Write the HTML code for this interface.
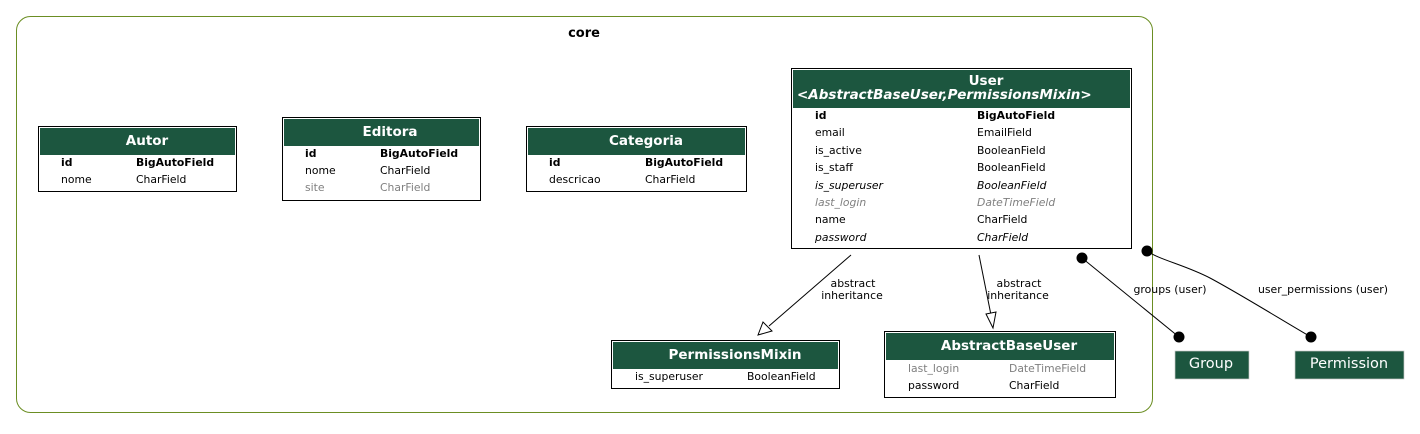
<!DOCTYPE html>
<html><head><style>
body{margin:0;background:#fff;}
text{font-family:"DejaVu Sans","Liberation Sans",sans-serif;}
.r{font-size:10.8px;fill:#000;}
.g{fill:#7f7f7f;}
.b{font-weight:bold;}
.i{font-style:italic;}
.h{font-size:13.5px;font-weight:bold;fill:#fff;}
.e{font-size:10.9px;}
</style></head><body>
<svg width="1420" height="429" viewBox="0 0 1420 429" xmlns="http://www.w3.org/2000/svg">
<rect x="16.5" y="16.5" width="1136" height="396" rx="14" fill="#fff" stroke="#6b8e23" stroke-width="1"/>
<text x="584" y="37" text-anchor="middle" font-size="13" font-weight="bold">core</text>

<!-- Autor -->
<rect x="38.5" y="126.5" width="198" height="65" fill="#fff" stroke="#000"/>
<rect x="40" y="128" width="195" height="27" fill="#1c563f"/>
<text x="147" y="145" class="h" text-anchor="middle">Autor</text>
<text x="61" y="166" class="r b">id</text><text x="136" y="166" class="r b">BigAutoField</text>
<text x="61" y="183" class="r">nome</text><text x="136" y="183" class="r">CharField</text>

<!-- Editora -->
<rect x="282.5" y="117.5" width="198" height="83" fill="#fff" stroke="#000"/>
<rect x="284" y="119" width="195" height="27" fill="#1c563f"/>
<text x="390" y="136" class="h" text-anchor="middle">Editora</text>
<text x="305" y="157" class="r b">id</text><text x="380" y="157" class="r b">BigAutoField</text>
<text x="305" y="174" class="r">nome</text><text x="380" y="174" class="r">CharField</text>
<text x="305" y="191" class="r g">site</text><text x="380" y="191" class="r g">CharField</text>

<!-- Categoria -->
<rect x="526.5" y="126.5" width="220" height="65" fill="#fff" stroke="#000"/>
<rect x="528" y="128" width="217" height="27" fill="#1c563f"/>
<text x="646" y="145" class="h" text-anchor="middle">Categoria</text>
<text x="549" y="166" class="r b">id</text><text x="645" y="166" class="r b">BigAutoField</text>
<text x="549" y="183" class="r">descricao</text><text x="645" y="183" class="r">CharField</text>

<!-- User -->
<rect x="791.5" y="68.5" width="340" height="180" fill="#fff" stroke="#000"/>
<rect x="793" y="70" width="337" height="38" fill="#1c563f"/>
<text x="986" y="85" class="h" text-anchor="middle">User</text>
<text x="797" y="99" class="h i">&lt;AbstractBaseUser,PermissionsMixin&gt;</text>
<text x="815" y="119" class="r b">id</text><text x="977" y="119" class="r b">BigAutoField</text>
<text x="815" y="136" class="r">email</text><text x="977" y="136" class="r">EmailField</text>
<text x="815" y="154" class="r">is_active</text><text x="977" y="154" class="r">BooleanField</text>
<text x="815" y="171" class="r">is_staff</text><text x="977" y="171" class="r">BooleanField</text>
<text x="815" y="189" class="r i">is_superuser</text><text x="977" y="189" class="r i">BooleanField</text>
<text x="815" y="206" class="r i g">last_login</text><text x="977" y="206" class="r i g">DateTimeField</text>
<text x="815" y="223" class="r">name</text><text x="977" y="223" class="r">CharField</text>
<text x="815" y="241" class="r i">password</text><text x="977" y="241" class="r i">CharField</text>

<!-- PermissionsMixin -->
<rect x="611.5" y="340.5" width="228" height="48" fill="#fff" stroke="#000"/>
<rect x="613" y="342" width="225" height="27" fill="#1c563f"/>
<text x="735" y="359" class="h" text-anchor="middle">PermissionsMixin</text>
<text x="635" y="380" class="r">is_superuser</text><text x="747" y="380" class="r">BooleanField</text>

<!-- AbstractBaseUser -->
<rect x="884.5" y="331.5" width="231" height="66" fill="#fff" stroke="#000"/>
<rect x="886" y="333" width="228" height="27" fill="#1c563f"/>
<text x="1009" y="350" class="h" text-anchor="middle">AbstractBaseUser</text>
<text x="908" y="372" class="r g">last_login</text><text x="1009" y="372" class="r g">DateTimeField</text>
<text x="908" y="389" class="r">password</text><text x="1009" y="389" class="r">CharField</text>

<!-- Group / Permission -->
<rect x="1175" y="351" width="74" height="28" fill="#1c563f" stroke="#c8c8c8" stroke-width="0.7"/>
<text x="1211" y="368" text-anchor="middle" font-size="14.5" fill="#fff">Group</text>
<rect x="1295" y="351" width="109" height="28" fill="#1c563f" stroke="#c8c8c8" stroke-width="0.7"/>
<text x="1349" y="368" text-anchor="middle" font-size="14.5" fill="#fff">Permission</text>

<!-- edges -->
<g stroke="#000" stroke-width="1" fill="none">
<path d="M851 255 L769 326"/>
<path d="M979 255 L991 315"/>
<path d="M1082 258 L1179 337"/>
<path d="M1147 251 C1160 260 1185 265 1210 278 C1240 294 1285 322 1311 337"/>
</g>
<polygon points="758,335 763,322 772,331" fill="#fff" stroke="#000"/>
<polygon points="993,328 986,314 996,312" fill="#fff" stroke="#000"/>
<circle cx="1082" cy="258" r="5.5" fill="#000"/>
<circle cx="1179" cy="337" r="5.5" fill="#000"/>
<circle cx="1147" cy="251" r="5.5" fill="#000"/>
<circle cx="1311" cy="337" r="5.5" fill="#000"/>
<text x="853" y="287" class="e" text-anchor="middle">abstract</text>
<text x="852" y="299" class="e" text-anchor="middle">inheritance</text>
<text x="1019" y="287" class="e" text-anchor="middle">abstract</text>
<text x="1018" y="299" class="e" text-anchor="middle">inheritance</text>
<text x="1170" y="293" class="e" text-anchor="middle">groups (user)</text>
<text x="1323" y="293" class="e" text-anchor="middle">user_permissions (user)</text>
</svg>
</body></html>
